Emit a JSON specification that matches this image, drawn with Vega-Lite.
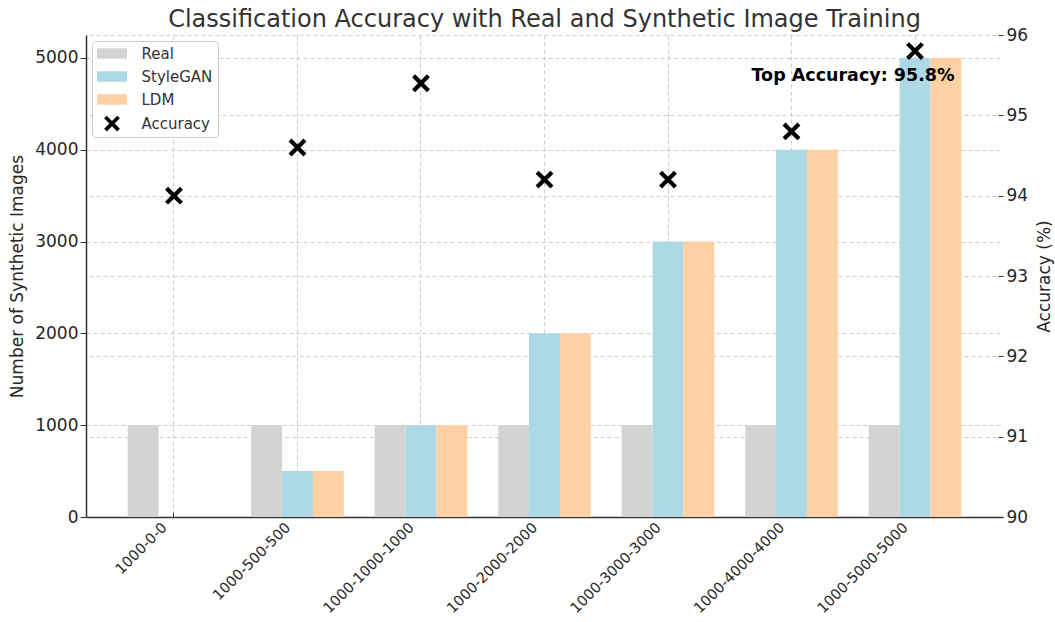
{
  "$schema": "https://vega.github.io/schema/vega-lite/v6.json",
  "width": 917,
  "height": 482,
  "autosize": {"type": "none"},
  "padding": {"left": 86, "top": 35, "right": 52, "bottom": 105},
  "background": "white",
  "title": {"text": "Classification Accuracy with Real and Synthetic Image Training", "fontSize": 24, "font": "DejaVu Sans", "fontWeight": "normal", "color": "#333333", "offset": -6, "anchor": "middle"},
  "config": {
    "view": {"stroke": null},
    "font": "DejaVu Sans",
    "axis": {"labelFont": "DejaVu Sans", "titleFont": "DejaVu Sans", "labelColor": "#262626", "titleColor": "#262626", "domainColor": "#333333", "tickColor": "#333333", "gridColor": "#cccccc", "gridDash": [4, 3], "titleFontWeight": "normal", "labelFontSize": 16, "titleFontSize": 17}
  },
  "datasets": {
    "bars": [
      {"config": "1000-0-0", "series": "Real", "count": 1000},
      {"config": "1000-0-0", "series": "StyleGAN", "count": 0},
      {"config": "1000-0-0", "series": "LDM", "count": 0},
      {"config": "1000-500-500", "series": "Real", "count": 1000},
      {"config": "1000-500-500", "series": "StyleGAN", "count": 500},
      {"config": "1000-500-500", "series": "LDM", "count": 500},
      {"config": "1000-1000-1000", "series": "Real", "count": 1000},
      {"config": "1000-1000-1000", "series": "StyleGAN", "count": 1000},
      {"config": "1000-1000-1000", "series": "LDM", "count": 1000},
      {"config": "1000-2000-2000", "series": "Real", "count": 1000},
      {"config": "1000-2000-2000", "series": "StyleGAN", "count": 2000},
      {"config": "1000-2000-2000", "series": "LDM", "count": 2000},
      {"config": "1000-3000-3000", "series": "Real", "count": 1000},
      {"config": "1000-3000-3000", "series": "StyleGAN", "count": 3000},
      {"config": "1000-3000-3000", "series": "LDM", "count": 3000},
      {"config": "1000-4000-4000", "series": "Real", "count": 1000},
      {"config": "1000-4000-4000", "series": "StyleGAN", "count": 4000},
      {"config": "1000-4000-4000", "series": "LDM", "count": 4000},
      {"config": "1000-5000-5000", "series": "Real", "count": 1000},
      {"config": "1000-5000-5000", "series": "StyleGAN", "count": 5000},
      {"config": "1000-5000-5000", "series": "LDM", "count": 5000}
    ],
    "acc": [
      {"config": "1000-0-0", "series": "Accuracy", "accuracy": 94.0},
      {"config": "1000-500-500", "series": "Accuracy", "accuracy": 94.6},
      {"config": "1000-1000-1000", "series": "Accuracy", "accuracy": 95.4},
      {"config": "1000-2000-2000", "series": "Accuracy", "accuracy": 94.2},
      {"config": "1000-3000-3000", "series": "Accuracy", "accuracy": 94.2},
      {"config": "1000-4000-4000", "series": "Accuracy", "accuracy": 94.8},
      {"config": "1000-5000-5000", "series": "Accuracy", "accuracy": 95.8}
    ]
  },
  "layer": [
    {
      "data": {"name": "bars"},
      "mark": {"type": "bar"},
      "encoding": {
        "x": {"field": "config", "type": "nominal", "sort": null,
          "scale": {"paddingInner": 0.25, "paddingOuter": 0.3375},
          "axis": {"title": null, "labelAngle": -45, "labelAlign": "right", "labelBaseline": "bottom", "grid": true, "ticks": true, "tickSize": -5, "labelPadding": 18, "labelOffset": -4, "domainWidth": 1.5, "bandPosition": 0.5, "labelFontSize": 14.5}},
        "xOffset": {"field": "series", "type": "nominal", "sort": ["Real", "StyleGAN", "LDM"],
          "scale": {"domain": ["Real", "StyleGAN", "LDM"], "paddingInner": 0, "paddingOuter": 0}},
        "y": {"field": "count", "type": "quantitative",
          "scale": {"domain": [0, 5250], "nice": false, "zero": true},
          "axis": {"orient": "left", "values": [0, 1000, 2000, 3000, 4000, 5000], "format": "d", "title": "Number of Synthetic Images", "grid": true, "tickSize": 6, "labelPadding": 2, "domainWidth": 1.5, "titlePadding": 8, "labelFontSize": 17}},
        "color": {"field": "series", "type": "nominal",
          "scale": {"domain": ["Real", "StyleGAN", "LDM", "Accuracy"], "range": ["#d3d3d3", "#add8e6", "#ffd0a3", "#000000"]},
          "legend": {"title": null, "orient": "top-left", "offset": 6, "padding": 5, "symbolSize": 225, "symbolOffset": 7.5, "labelOffset": 22, "rowPadding": 7, "labelFontSize": 15, "labelColor": "#333333", "labelFont": "DejaVu Sans", "strokeColor": "#cccccc", "fillColor": "rgba(255,255,255,0.85)", "cornerRadius": 4, "symbolStrokeWidth": 0}}
      }
    },
    {
      "data": {"name": "acc"},
      "encoding": {
        "x": {"field": "config", "type": "nominal", "sort": null,
          "axis": {"title": null, "labelAngle": -45, "labelAlign": "right", "labelBaseline": "bottom", "grid": true, "ticks": true, "tickSize": -5, "labelPadding": 18, "labelOffset": -4, "domainWidth": 1.5, "bandPosition": 0.5, "labelFontSize": 14.5}},
        "y": {"field": "accuracy", "type": "quantitative",
          "scale": {"domain": [90, 96], "nice": false, "zero": false},
          "axis": {"orient": "right", "values": [90, 91, 92, 93, 94, 95, 96], "title": "Accuracy (%)", "grid": true, "domain": false, "tickSize": -5, "labelPadding": 8, "titleAngle": -90, "titlePadding": 26, "labelFontSize": 17}}
      },
      "layer": [
        {
          "mark": {"type": "point", "filled": true, "opacity": 1, "size": 290, "strokeWidth": 0},
          "encoding": {
            "color": {"field": "series", "type": "nominal",
              "legend": {"title": null, "orient": "top-left", "offset": 6, "padding": 5, "symbolSize": 225, "symbolOffset": 7.5, "labelOffset": 22, "rowPadding": 7, "labelFontSize": 15, "labelColor": "#333333", "labelFont": "DejaVu Sans", "strokeColor": "#cccccc", "fillColor": "rgba(255,255,255,0.85)", "cornerRadius": 4, "symbolStrokeWidth": 0}},
            "shape": {"field": "series", "type": "nominal",
              "scale": {"domain": ["Real", "StyleGAN", "LDM", "Accuracy"], "range": ["M-2,-0.7L2,-0.7L2,0.7L-2,0.7Z", "M-2,-0.7L2,-0.7L2,0.7L-2,0.7Z", "M-2,-0.7L2,-0.7L2,0.7L-2,0.7Z", "M-1.05,-0.7L-0.7,-1.05L0,-0.35L0.7,-1.05L1.05,-0.7L0.35,0L1.05,0.7L0.7,1.05L0,0.35L-0.7,1.05L-1.05,0.7L-0.35,0Z"]},
              "legend": {"title": null, "orient": "top-left", "offset": 6, "padding": 5, "symbolSize": 225, "symbolOffset": 7.5, "labelOffset": 22, "rowPadding": 7, "labelFontSize": 15, "labelColor": "#333333", "labelFont": "DejaVu Sans", "strokeColor": "#cccccc", "fillColor": "rgba(255,255,255,0.85)", "cornerRadius": 4, "symbolStrokeWidth": 0}}
          }
        },
        {
          "transform": [{"filter": "datum.accuracy >= 95.8"}],
          "mark": {"type": "text", "font": "DejaVu Sans", "fontWeight": "bold", "fontSize": 17.5, "color": "#000000", "dx": -62, "dy": 25, "align": "center", "baseline": "middle"},
          "encoding": {"text": {"value": "Top Accuracy: 95.8%"}}
        }
      ]
    }
  ],
  "resolve": {"scale": {"y": "independent"}, "axis": {"y": "independent"}}
}
